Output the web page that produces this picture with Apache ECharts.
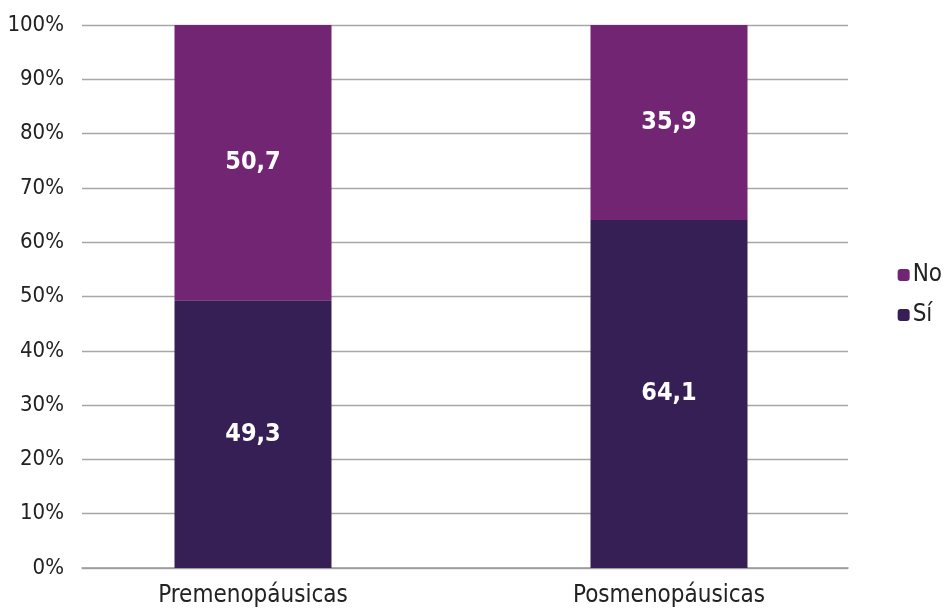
<!DOCTYPE html>
<html><head><meta charset="utf-8">
<script src="https://cdn.jsdelivr.net/npm/echarts@6/dist/echarts.min.js"></script>
<style>html,body{margin:0;padding:0;background:#fff}#c{width:949px;height:612px}</style>
</head><body><div id="c"></div>
<script>
const categories = ['Premenopáusicas', 'Posmenopáusicas'];
const siValues = [49.3, 64.1];
const noValues = [50.7, 35.9];
const yTicks = [0, 10, 20, 30, 40, 50, 60, 70, 80, 90, 100];

const FONT = '"Liberation Sans Narrow", "DejaVu Sans Condensed", "Roboto", sans-serif';
const chart = echarts.init(document.getElementById('c'));
const lbl = {
  show: true, position: 'inside', color: '#fff', fontFamily: FONT,
  fontWeight: 'bold', fontSize: 25,
  formatter: p => String(p.value).replace('.', ',')
};
const yMin = yTicks[0], yMax = yTicks[yTicks.length - 1];
chart.setOption({
  animation: false,
  grid: [
    { left: 82, right: 101, top: 25, bottom: 44 },
    { left: 45, right: 72, top: 25, bottom: 44 }
  ],
  legend: {
    orient: 'vertical', right: 2, top: 258, itemGap: 16,
    icon: 'roundRect', itemWidth: 12, itemHeight: 12,
    textStyle: { fontFamily: FONT, fontSize: 24, color: '#222', padding: [0, 0, 0, -2] },
    data: ['No', 'Sí']
  },
  xAxis: [
    { type: 'category', gridIndex: 0, data: [''],
      axisLine: { lineStyle: { color: '#9a9a9a', width: 1.5 } },
      axisTick: { show: false }, axisLabel: { show: false } },
    { type: 'category', gridIndex: 1, data: categories,
      axisLine: { show: false }, axisTick: { show: false },
      axisLabel: { fontFamily: FONT, fontSize: 24, color: '#222', margin: 16 } }
  ],
  yAxis: [
    { type: 'value', gridIndex: 0, min: yMin, max: yMax, interval: 10,
      axisLine: { show: false }, axisTick: { show: false },
      splitLine: { lineStyle: { color: '#a6a6a6', width: 1.3 } },
      axisLabel: { fontFamily: FONT, fontSize: 22, color: '#222', margin: 18, formatter: '{value}%' } },
    { type: 'value', gridIndex: 1, min: yMin, max: yMax, interval: 10, show: false }
  ],
  series: [
    { name: 'Sí', type: 'bar', stack: 't', data: siValues, barWidth: 157,
      xAxisIndex: 1, yAxisIndex: 1,
      itemStyle: { color: '#361f55' }, label: lbl },
    { name: 'No', type: 'bar', stack: 't', data: noValues, barWidth: 157,
      xAxisIndex: 1, yAxisIndex: 1,
      itemStyle: { color: '#722572' }, label: lbl }
  ]
});
</script></body></html>
